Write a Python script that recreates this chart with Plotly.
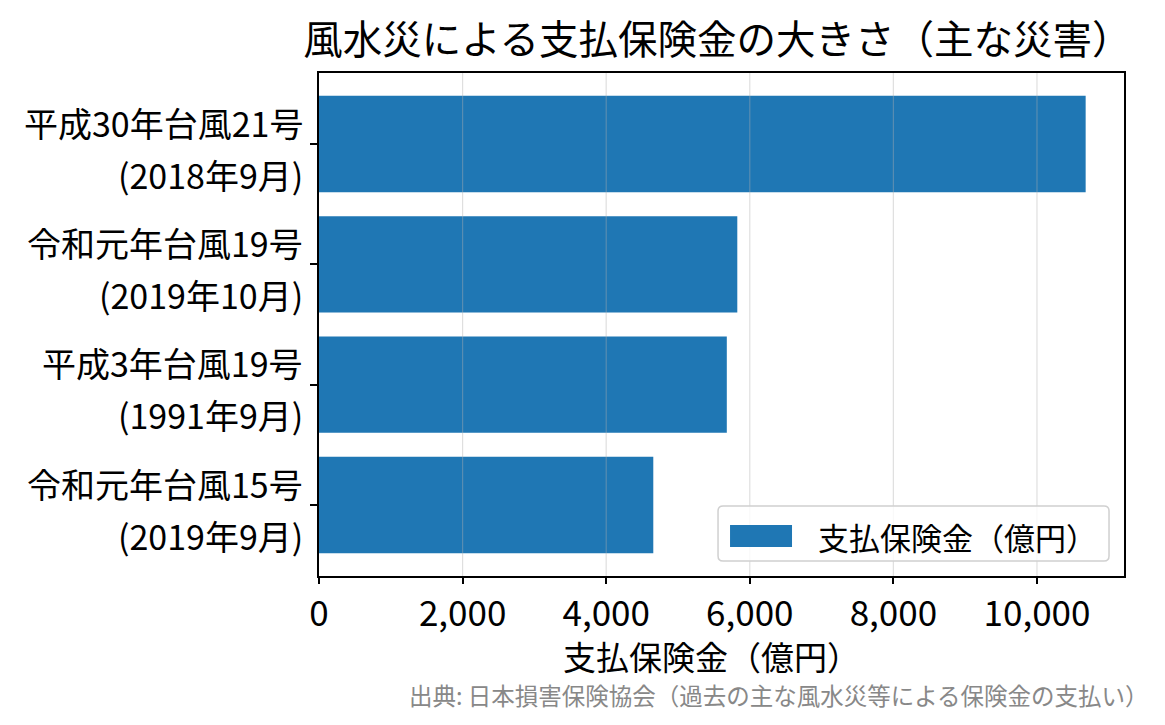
import plotly.graph_objects as go

# 主な風水災の支払保険金（億円）
saigai = ["平成30年台風21号", "令和元年台風19号", "平成3年台風19号", "令和元年台風15号"]
hassei = ["(2018年9月)", "(2019年10月)", "(1991年9月)", "(2019年9月)"]
hokenkin = [10678, 5826, 5680, 4656]
x_ticks = [0, 2000, 4000, 6000, 8000, 10000]
x_tick_labels = ["0", "2,000", "4,000", "6,000", "8,000", "10,000"]
legend_label = "支払保険金（億円）"

FONT = "Noto Sans CJK JP"
BLUE = "#1f77b4"

fig = go.Figure()
fig.add_trace(go.Bar(
    x=hokenkin, y=saigai, orientation="h",
    name=legend_label, showlegend=False,
    marker=dict(color=BLUE, line=dict(width=0)),
))

# 2行の目盛りラベル（行間を広めに）
for name, when in zip(saigai, hassei):
    fig.add_annotation(text=name, xref="paper", yref="y", x=0, y=name, xshift=-14, yshift=22,
                       xanchor="right", yanchor="middle", showarrow=False,
                       font=dict(size=34, family=FONT, color="black"))
    fig.add_annotation(text=when, xref="paper", yref="y", x=0, y=name, xshift=-14, yshift=-30,
                       xanchor="right", yanchor="middle", showarrow=False,
                       font=dict(size=34, family=FONT, color="black"))

# matplotlibと同じくグリッドを棒の上に描く
for t in x_ticks[1:]:
    fig.add_shape(type="line", xref="x", yref="paper", x0=t, x1=t, y0=0, y1=1,
                  line=dict(color="rgba(176,176,176,0.4)", width=1.2), layer="above")

# 凡例（角丸の枠 + 横長の色見本）
x0, x1, y0, y1 = 0.4957, 0.9814, 0.0298, 0.139
rx, ry = 5 / 805, 5 / 503
path = (f"M {x0+rx},{y0} L {x1-rx},{y0} Q {x1},{y0} {x1},{y0+ry} "
        f"L {x1},{y1-ry} Q {x1},{y1} {x1-rx},{y1} L {x0+rx},{y1} "
        f"Q {x0},{y1} {x0},{y1-ry} L {x0},{y0+ry} Q {x0},{y0} {x0+rx},{y0} Z")
fig.add_shape(type="path", path=path, xref="paper", yref="paper",
              line=dict(color="#d0d0d0", width=1.5), fillcolor="rgba(255,255,255,0.8)", layer="above")
fig.add_shape(type="rect", xref="paper", yref="paper", x0=0.5106, x1=0.5876, y0=0.0577, y1=0.1014,
              line=dict(width=0), fillcolor=BLUE, layer="above")
fig.add_annotation(text=legend_label, xref="paper", yref="paper", x=0.617, y=0.0795,
                   xanchor="left", yanchor="middle", showarrow=False,
                   font=dict(size=31, family=FONT, color="black"))

fig.update_layout(
    width=1158, height=715,
    margin=dict(l=311, r=42, t=65, b=147),
    paper_bgcolor="white", plot_bgcolor="white",
    font=dict(family=FONT, color="black"),
    title=dict(text="風水災による支払保険金の大きさ（主な災害）", x=0.6126, xanchor="center",
               y=0.955, yanchor="middle", font=dict(size=39.5, family=FONT)),
    bargap=0.2,
    showlegend=False,
)
fig.update_xaxes(
    range=[0, 11212], tickvals=x_ticks, ticktext=x_tick_labels,
    showgrid=False, zeroline=False,
    showline=True, linecolor="black", linewidth=1.5, mirror=True,
    ticks="outside", ticklen=6, tickwidth=1.5, tickcolor="black",
    tickfont=dict(size=35, family=FONT),
)
fig.update_yaxes(
    range=[3.59, -0.59], showgrid=False, zeroline=False,
    showline=True, linecolor="black", linewidth=1.5, mirror=True,
    ticks="outside", ticklen=7, tickwidth=1.5, tickcolor="black",
    showticklabels=False,
)
# x軸タイトル
fig.add_annotation(text="支払保険金（億円）", xref="paper", yref="paper", x=0.487, y=-0.1585,
                   xanchor="center", yanchor="middle", showarrow=False,
                   font=dict(size=33, family=FONT, color="black"))
fig.add_annotation(text="出典: 日本損害保険協会（過去の主な風水災等による保険金の支払い）",
                   xref="paper", yref="paper", x=1.0334, y=-0.2366, xanchor="right", yanchor="middle",
                   showarrow=False, font=dict(size=23.5, color="#888888", family=FONT))

fig.write_html("out.html")
